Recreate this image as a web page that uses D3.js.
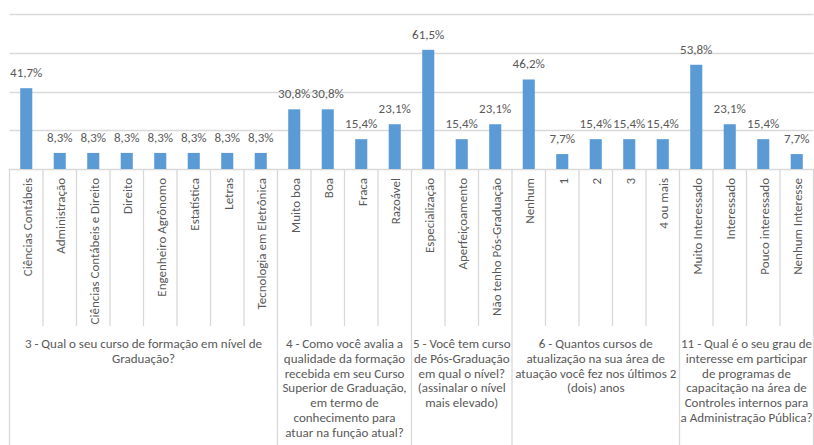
<!DOCTYPE html>
<html>
<head>
<meta charset="utf-8">
<script src="https://cdn.jsdelivr.net/npm/d3@7"></script>
<style>
  body { margin: 0; background: #fff; }
  svg text { font-family: Calibri, Carlito, Lato, sans-serif; fill: #595959; }
</style>
</head>
<body>
<div id="chart"></div>
<script>
// categories of the inner axis level
const categories = [
  'Ciências Contábeis', 'Administração', 'Ciências Contábeis e Direito', 'Direito',
  'Engenheiro Agrônomo', 'Estatística', 'Letras', 'Tecnologia em Eletrônica',
  'Muito boa', 'Boa', 'Fraca', 'Razoável',
  'Especialização', 'Aperfeiçoamento', 'Não tenho Pós-Graduação',
  'Nenhum', '1', '2', '3', '4 ou mais',
  'Muito Interessado', 'Interessado', 'Pouco interessado', 'Nenhum Interesse'
]
// percent values, one per category
const values = [
  41.7, 8.3, 8.3, 8.3, 8.3, 8.3, 8.3, 8.3,
  30.8, 30.8, 15.4, 23.1,
  61.5, 15.4, 23.1,
  46.2, 7.7, 15.4, 15.4, 15.4,
  53.8, 23.1, 15.4, 7.7
]
// how many categories belong to each question
const groupSizes = [8, 4, 3, 5, 4]
// question labels, already broken into lines
const groupLabels = [
  ['3 - Qual o seu curso de formação em nível de', 'Graduação?'],
  ['4 - Como você avalia a', 'qualidade da formação', 'recebida em seu Curso', 'Superior de Graduação,', 'em termo de', 'conhecimento para', 'atuar na função atual?'],
  ['5 - Você tem curso', 'de Pós-Graduação', 'em qual o nível?', '(assinalar o nível', 'mais elevado)'],
  ['6 - Quantos cursos de', 'atualização na sua área de', 'atuação você fez nos últimos 2', '(dois) anos'],
  ['11 - Qual é o seu grau de', 'interesse em participar', 'de programas de', 'capacitação na área de', 'Controles internos para', 'a Administração Pública?']
]
const yTicks = [0, 20, 40, 60, 80]

const width = 814
const height = 445
const plotLeft = 9.5
const plotRight = 813.5
const plotTop = 14
const base = 169
const lineColor = '#d9d9d9'
const fontSize = '13px'

const svg = d3.select('#chart')
  .append('svg')
  .attr('width', width)
  .attr('height', height)

const x = d3.scaleBand().domain(d3.range(categories.length)).range([plotLeft, plotRight]).padding(0)
const y = d3.scaleLinear().domain([0, 80]).range([base, plotTop])
const barW = x.bandwidth() * 0.36

const ptBR = d3.formatLocale({ decimal: ',', thousands: '.', grouping: [3], currency: ['R$', ''] })
const fmt = v => ptBR.format('.1f')(v) + '%'

// gridlines
svg.append('g')
  .selectAll('line')
  .data(yTicks)
  .enter().append('line')
  .attr('x1', plotLeft)
  .attr('x2', plotRight)
  .attr('y1', d => Math.round(y(d)) + 0.5)
  .attr('y2', d => Math.round(y(d)) + 0.5)
  .attr('stroke', lineColor)
  .attr('stroke-width', 1.3)

// bars
svg.append('g')
  .selectAll('rect')
  .data(values)
  .enter().append('rect')
  .attr('x', (d, i) => x(i) + (x.bandwidth() - barW) / 2)
  .attr('y', d => y(d))
  .attr('width', barW)
  .attr('height', d => base - y(d))
  .attr('fill', '#5b9bd5')

// data labels
svg.append('g')
  .selectAll('text')
  .data(values)
  .enter().append('text')
  .attr('x', (d, i) => x(i) + x.bandwidth() / 2)
  .attr('y', d => y(d) - 11)
  .attr('text-anchor', 'middle')
  .style('font-size', fontSize)
  .text(d => fmt(d))

// group boundaries
const groupStarts = []
let acc = 0
groupSizes.forEach(n => { groupStarts.push(acc); acc += n })
const isGroupEdge = i => i === 0 || i === categories.length || groupStarts.includes(i)

// separators of the category axis
svg.append('g')
  .selectAll('line')
  .data(d3.range(categories.length + 1))
  .enter().append('line')
  .attr('x1', i => (i === categories.length ? plotRight : x(i)))
  .attr('x2', i => (i === categories.length ? plotRight : x(i)))
  .attr('y1', base)
  .attr('y2', i => (isGroupEdge(i) ? height : 326))
  .attr('stroke', lineColor)
  .attr('stroke-width', 1.3)

// rotated category labels
svg.append('g')
  .selectAll('text')
  .data(categories)
  .enter().append('text')
  .attr('transform', (d, i) => `translate(${x(i) + x.bandwidth() / 2 + 1},178) rotate(-90)`)
  .attr('dy', '0.35em')
  .attr('text-anchor', 'end')
  .style('font-size', fontSize)
  .text(d => d)

// question labels
const groupG = svg.append('g')
groupLabels.forEach((lines, gi) => {
  const start = groupStarts[gi]
  const end = start + groupSizes[gi]
  const x0 = x(start)
  const x1 = end === categories.length ? plotRight : x(end)
  const t = groupG.append('text')
    .attr('text-anchor', 'middle')
    .style('font-size', fontSize)
  lines.forEach((ln, li) => {
    t.append('tspan')
      .attr('x', (x0 + x1) / 2)
      .attr('y', 348 + li * 14.8)
      .text(ln)
  })
})
</script>
</body>
</html>
